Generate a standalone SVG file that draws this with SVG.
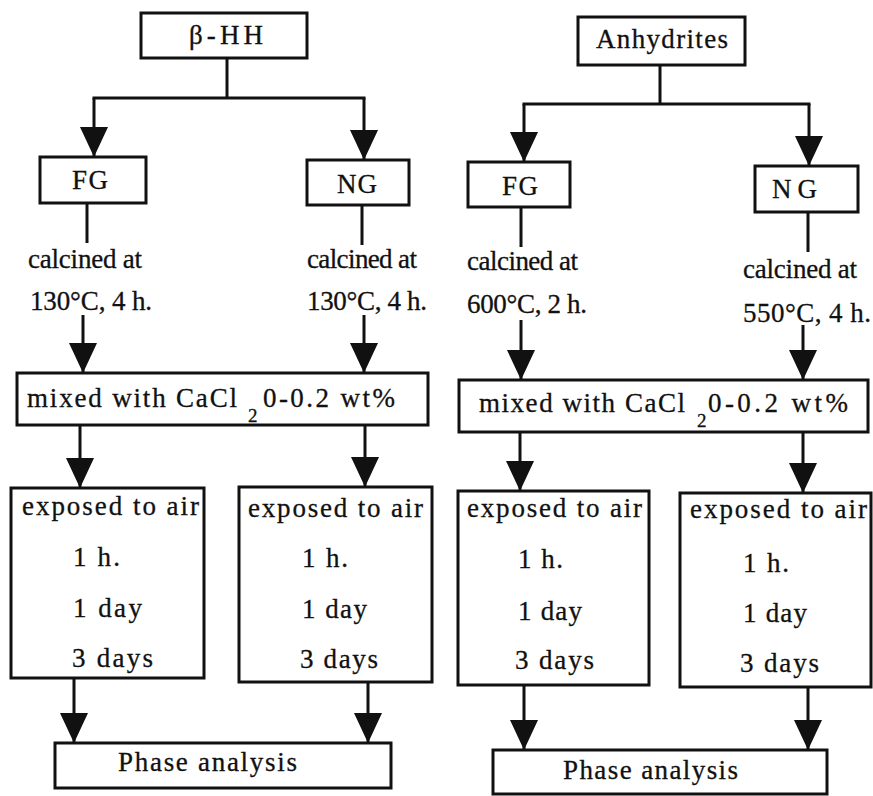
<svg xmlns="http://www.w3.org/2000/svg" width="873" height="796" viewBox="0 0 873 796">
<style>
.box{fill:#fff;stroke:#111;stroke-width:3}
text{font-family:"Liberation Serif","DejaVu Serif",serif;fill:#111;stroke:#111;stroke-width:0.3}
.t{font-size:27px}
.sub{font-size:19px}
.c line{stroke:#111;stroke-width:3}
.a{marker-end:url(#ah)}
</style>
<defs>
<marker id="ah" viewBox="0 0 30 28" refX="30" refY="14" markerWidth="30" markerHeight="28" markerUnits="userSpaceOnUse" orient="auto">
<path d="M0,0 L30,14 L0,28 Z" fill="#111"/>
</marker>
</defs>
<rect width="873" height="796" fill="#fff"/>

<g class="c" id="connectors">
<line x1="227" y1="58" x2="227" y2="98"/>
<line x1="92.5" y1="98" x2="365.5" y2="98"/>
<line class="a" x1="94" y1="98" x2="94" y2="157"/>
<line class="a" x1="364" y1="98" x2="364" y2="160"/>
<line x1="87" y1="203" x2="87" y2="243"/>
<line x1="362" y1="205" x2="362" y2="245"/>
<line class="a" x1="83" y1="315" x2="83" y2="373"/>
<line class="a" x1="364" y1="315" x2="364" y2="373"/>
<line class="a" x1="80" y1="425" x2="80" y2="488"/>
<line class="a" x1="365" y1="425" x2="365" y2="487"/>
<line class="a" x1="74" y1="678" x2="74" y2="743"/>
<line class="a" x1="368" y1="682" x2="368" y2="743"/>

<line x1="660" y1="65" x2="660" y2="104"/>
<line x1="522.5" y1="104" x2="810.5" y2="104"/>
<line class="a" x1="524" y1="104" x2="524" y2="162"/>
<line class="a" x1="809" y1="104" x2="809" y2="166"/>
<line x1="521" y1="207" x2="521" y2="247"/>
<line x1="808" y1="212" x2="808" y2="252"/>
<line class="a" x1="521" y1="320" x2="521" y2="380"/>
<line class="a" x1="803" y1="325" x2="803" y2="380"/>
<line class="a" x1="520" y1="432" x2="520" y2="491"/>
<line class="a" x1="803" y1="432" x2="803" y2="493"/>
<line class="a" x1="524" y1="685" x2="524" y2="750"/>
<line class="a" x1="808" y1="687" x2="808" y2="750"/>
</g>

<g id="bhh"><rect class="box" x="141" y="13" width="166" height="45"/><text class="t" x="189" y="44" textLength="74" lengthAdjust="spacing">β-HH</text></g>
<g id="fg-l"><rect class="box" x="40" y="157" width="106" height="46"/><text class="t" x="72" y="189" textLength="36" lengthAdjust="spacing">FG</text></g>
<g id="ng-l"><rect class="box" x="307" y="160" width="102" height="45"/><text class="t" x="337" y="193" textLength="40" lengthAdjust="spacing">NG</text></g>
<g id="calc-fg-l"><text class="t" x="28" y="268" textLength="114" lengthAdjust="spacing">calcined at</text><text class="t" x="30" y="310" textLength="122" lengthAdjust="spacing">130°C, 4 h.</text></g>
<g id="calc-ng-l"><text class="t" x="307" y="268" textLength="110" lengthAdjust="spacing">calcined at</text><text class="t" x="307" y="310" textLength="120" lengthAdjust="spacing">130°C, 4 h.</text></g>
<g id="mix-l"><rect class="box" x="17" y="373" width="411" height="52"/><text class="t" x="27" y="407" textLength="210" lengthAdjust="spacing">mixed with CaCl</text><text class="sub" x="248" y="422">2</text><text class="t" x="263" y="407" textLength="132" lengthAdjust="spacing">0-0.2 wt%</text></g>
<g id="exp-1"><rect class="box" x="11" y="488" width="193" height="190"/><text class="t" x="22" y="515" textLength="177" lengthAdjust="spacing">exposed to air</text><text class="t" x="73" y="566" textLength="47" lengthAdjust="spacing">1 h.</text><text class="t" x="73" y="617" textLength="69" lengthAdjust="spacing">1 day</text><text class="t" x="72" y="667" textLength="81" lengthAdjust="spacing">3 days</text></g>
<g id="exp-2"><rect class="box" x="239" y="487" width="193" height="195"/><text class="t" x="248" y="517" textLength="175" lengthAdjust="spacing">exposed to air</text><text class="t" x="302" y="567" textLength="46" lengthAdjust="spacing">1 h.</text><text class="t" x="302" y="618" textLength="65" lengthAdjust="spacing">1 day</text><text class="t" x="300" y="668" textLength="78" lengthAdjust="spacing">3 days</text></g>
<g id="phase-l"><rect class="box" x="55" y="743" width="336" height="45"/><text class="t" x="118" y="771" textLength="179" lengthAdjust="spacing">Phase analysis</text></g>

<g id="anh"><rect class="box" x="578" y="17" width="167" height="48"/><text class="t" x="596" y="48" textLength="132" lengthAdjust="spacing">Anhydrites</text></g>
<g id="fg-r"><rect class="box" x="468" y="162" width="102" height="45"/><text class="t" x="502" y="195" textLength="36" lengthAdjust="spacing">FG</text></g>
<g id="ng-r"><rect class="box" x="755" y="166" width="103" height="46"/><text class="t" x="772" y="198" textLength="45" lengthAdjust="spacing">NG</text></g>
<g id="calc-fg-r"><text class="t" x="467" y="270" textLength="111" lengthAdjust="spacing">calcined at</text><text class="t" x="467" y="313" textLength="120" lengthAdjust="spacing">600°C, 2 h.</text></g>
<g id="calc-ng-r"><text class="t" x="743" y="278" textLength="114" lengthAdjust="spacing">calcined at</text><text class="t" x="743" y="322" textLength="128" lengthAdjust="spacing">550°C, 4 h.</text></g>
<g id="mix-r"><rect class="box" x="459" y="380" width="409" height="52"/><text class="t" x="479" y="412" textLength="206" lengthAdjust="spacing">mixed with CaCl</text><text class="sub" x="697" y="427">2</text><text class="t" x="708" y="412" textLength="140" lengthAdjust="spacing">0-0.2 wt%</text></g>
<g id="exp-3"><rect class="box" x="458" y="491" width="191" height="194"/><text class="t" x="467" y="517" textLength="175" lengthAdjust="spacing">exposed to air</text><text class="t" x="518" y="568" textLength="45" lengthAdjust="spacing">1 h.</text><text class="t" x="518" y="620" textLength="64" lengthAdjust="spacing">1 day</text><text class="t" x="515" y="669" textLength="79" lengthAdjust="spacing">3 days</text></g>
<g id="exp-4"><rect class="box" x="680" y="493" width="191" height="194"/><text class="t" x="690" y="518" textLength="177" lengthAdjust="spacing">exposed to air</text><text class="t" x="743" y="572" textLength="46" lengthAdjust="spacing">1 h.</text><text class="t" x="743" y="622" textLength="64" lengthAdjust="spacing">1 day</text><text class="t" x="740" y="672" textLength="79" lengthAdjust="spacing">3 days</text></g>
<g id="phase-r"><rect class="box" x="493" y="750" width="334" height="44"/><text class="t" x="563" y="779" textLength="175" lengthAdjust="spacing">Phase analysis</text></g>
</svg>
